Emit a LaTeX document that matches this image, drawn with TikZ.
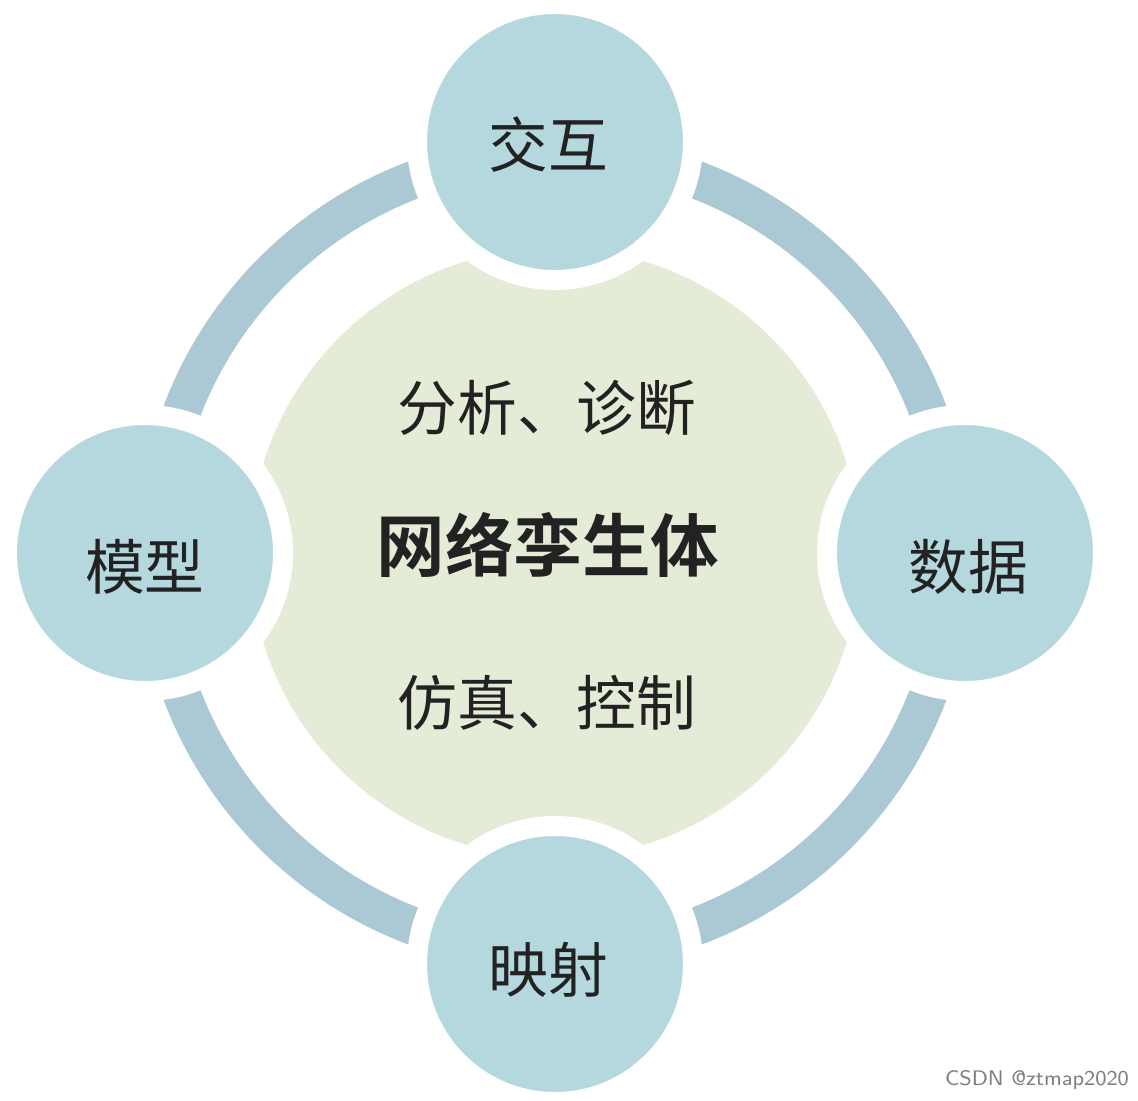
\documentclass[tikz,border=0pt]{standalone}
\usepackage{fontspec}
\newfontfamily\cjk[BoldFont={Noto Sans CJK SC Bold}]{Noto Sans CJK SC}
\definecolor{ballblue}{RGB}{181,216,222}
\definecolor{ringblue}{RGB}{171,201,212}
\definecolor{coregreen}{RGB}{228,235,214}
\definecolor{inkgray}{RGB}{34,34,34}
\begin{document}
\begin{tikzpicture}[
    ball/.style={circle, fill=ballblue, draw=white, line width=0.2cm,
                 minimum size=2.76cm, inner sep=0pt},
    balllabel/.style={font=\cjk\fontsize{17}{20}\selectfont, text=inkgray},
    corelabel/.style={font=\cjk\fontsize{17}{20}\selectfont, text=inkgray}
]
    \useasboundingbox (-5.55, -5.47) rectangle (5.83, 5.53);

    \coordinate (ptop) at (0, 4.11);
    \coordinate (pright) at (4.10, 0);
    \coordinate (pbottom) at (0, -4.11);
    \coordinate (pleft) at (-4.10, 0);

    % ring, cut open round the circles
    \draw[ringblue, line width=0.38cm] (0, 0) circle (3.99);
    \foreach \p in {ptop, pright, pbottom, pleft}
        \fill[white] (\p) circle (1.43);

    % core
    \fill[coregreen] (0, 0) circle (3.05);

    % the four outer circles
    \node[ball] (jiaohu) at (ptop) {};
    \node[ball] (shuju) at (pright) {};
    \node[ball] (yingshe) at (pbottom) {};
    \node[ball] (moxing) at (pleft) {};

    \node[balllabel] (jiaohutext) at (-0.07, 4.08) {交互};
    \node[balllabel] (shujutext) at (4.13, -0.14) {数据};
    \node[balllabel] (yingshetext) at (-0.07, -4.17) {映射};
    \node[balllabel] (moxingtext) at (-4.10, -0.14) {模型};

    % texts in the core
    \node[corelabel] (fenxi) at (-0.08, 1.45) {分析、诊断};
    \node[font=\cjk\bfseries\fontsize{19.5}{22}\selectfont, text=inkgray] (twin) at (-0.07, 0.08) {网络孪生体};
    \node[corelabel] (fangzhen) at (-0.08, -1.50) {仿真、控制};

    \node[font=\sffamily\fontsize{6}{7}\selectfont, text=gray] (mark) at (4.82, -5.27) {CSDN @ztmap2020};
\end{tikzpicture}
\end{document}
